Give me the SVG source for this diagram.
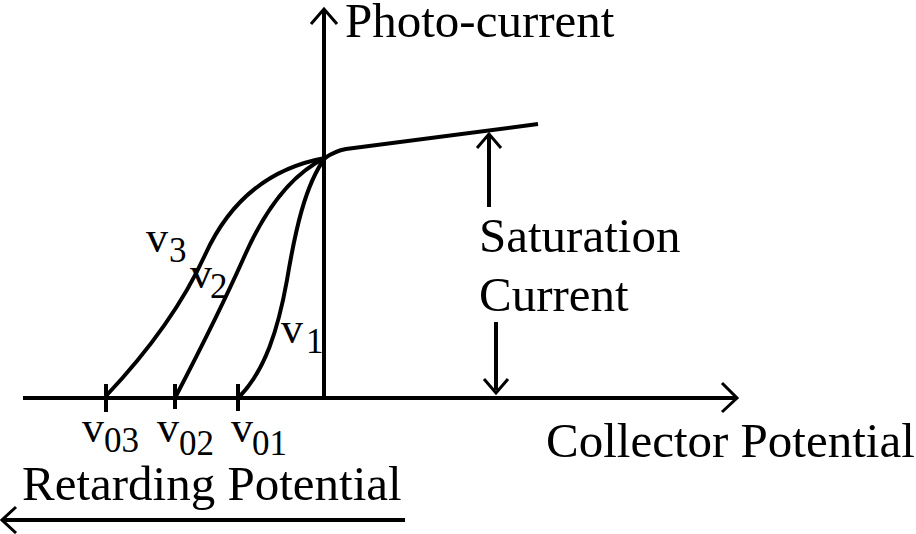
<svg xmlns="http://www.w3.org/2000/svg" width="916" height="534" viewBox="0 0 916 534">
<style>
.ln{fill:none;stroke:#000;stroke-width:4;stroke-linecap:butt;stroke-linejoin:round}
.ah{fill:none;stroke:#000;stroke-width:3;stroke-linecap:butt;stroke-linejoin:miter}
.t{font-family:"Liberation Serif","Times New Roman",serif;fill:#000}
.big{font-size:49px}
.v{font-size:44px}
.sub{font-size:35px}
</style>
<rect width="916" height="534" fill="#fff"/>
<g id="connectors">
  <!-- axes -->
  <line class="ln" x1="23" y1="398" x2="735" y2="398"/>
  <polyline class="ah" points="722,383 737,398 722,412"/>
  <line class="ln" x1="324" y1="396" x2="324" y2="11"/>
  <polyline class="ah" points="311,24 324,9 337,24"/>
  <!-- ticks -->
  <line class="ln" x1="106" y1="384" x2="106" y2="412"/>
  <line class="ln" x1="175" y1="384" x2="175" y2="409"/>
  <line class="ln" x1="238" y1="384" x2="238" y2="411"/>
  <!-- curves -->
  <path class="ln" d="M240,396 C265,370 278,330 287,280 C295,232 305,185 325,158"/>
  <path class="ln" d="M176,396 C200,350 225,300 245,255 C265,210 290,175 325,158"/>
  <path class="ln" d="M106,396 C140,360 180,310 205,255 C230,200 270,168 325,158"/>
  <path class="ln" d="M325,158 Q335,151 346,149 L538,124"/>
  <!-- saturation arrows -->
  <line class="ln" x1="489" y1="207" x2="489" y2="136"/>
  <polyline class="ah" points="477,148 489,134 501,148"/>
  <line class="ln" x1="496" y1="322" x2="496" y2="390"/>
  <polyline class="ah" points="484,379 496,393 508,379"/>
  <!-- retarding arrow -->
  <line class="ln" x1="405" y1="520" x2="4" y2="520"/>
  <polyline class="ah" points="16,507 2,520 16,533"/>
</g>
<g id="label-photocurrent"><text class="t big" x="345" y="37">Photo-current</text></g>
<g id="label-saturation"><text class="t big" x="479" y="252">Saturation</text><text class="t big" x="479" y="311">Current</text></g>
<g id="label-collector"><text class="t big" x="546" y="457">Collector Potential</text></g>
<g id="label-retarding"><text class="t big" x="22" y="500">Retarding Potential</text></g>
<g id="label-v03"><text class="t v" x="82" y="442">v</text><text class="t sub" x="104" y="452">03</text></g>
<g id="label-v02"><text class="t v" x="157" y="442">v</text><text class="t sub" x="179" y="455">02</text></g>
<g id="label-v01"><text class="t v" x="231" y="442">v</text><text class="t sub" x="252" y="455">01</text></g>
<g id="label-v3"><text class="t v" x="146" y="252">v</text><text class="t sub" x="169" y="262">3</text></g>
<g id="label-v2"><text class="t v" x="190" y="288">v</text><text class="t sub" x="210" y="298">2</text></g>
<g id="label-v1"><text class="t v" x="281" y="343">v</text><text class="t sub" x="306" y="353">1</text></g>
</svg>
